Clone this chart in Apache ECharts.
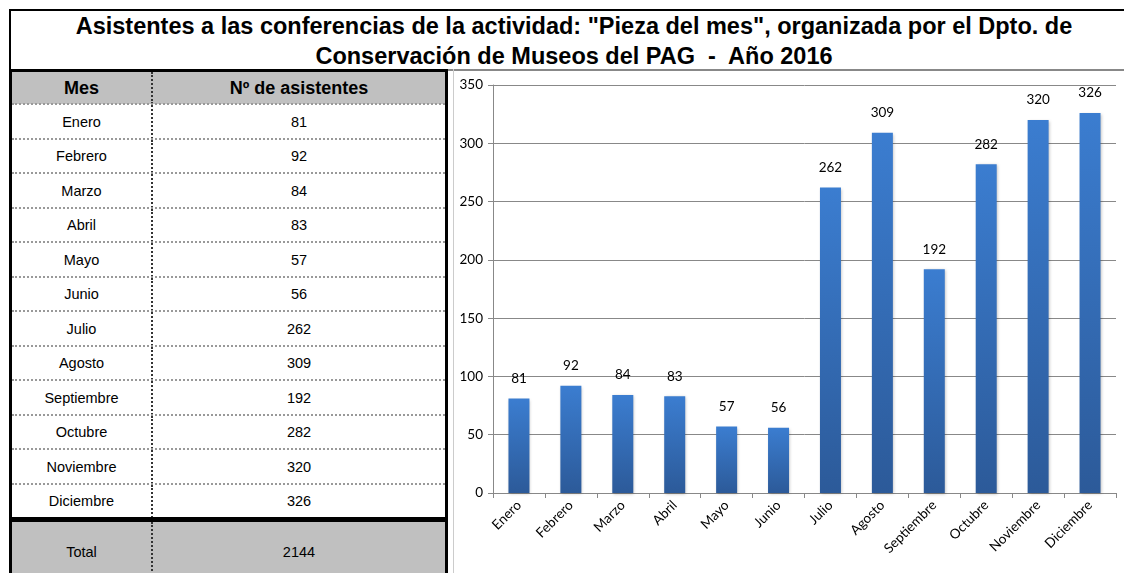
<!DOCTYPE html>
<html>
<head>
<meta charset="utf-8">
<script src="https://cdn.jsdelivr.net/npm/echarts@6/dist/echarts.min.js"></script>
<style>
  body { margin: 0; width: 1124px; height: 573px; overflow: hidden; background: #fff; font-family: "Liberation Sans", Arial, sans-serif; }
  .title { position: absolute; left: 9px; top: 9px; width: 1130px; height: 58px; border-top: 2px solid #000; border-left: 2px solid #000;
    border-bottom: 2px solid #888; font-weight: bold; font-size: 23.5px; line-height: 30px; text-align: center; }
  .title span { display: block; width: 1126px; }
  .tbl { position: absolute; left: 9px; top: 69px; width: 433px; height: 510px; border-left: 3px solid #000; border-right: 3px solid #000; border-top: 3px solid #000; }
  .row { position: absolute; left: 0; width: 433px; font-size: 14.5px; text-align: center; }
  .row div { position: absolute; top: 0; height: 100%; display: flex; align-items: center; justify-content: center; }
  .c1 { left: 0; width: 139px; border-right: 2px dotted #333; }
  .c2 { left: 141px; width: 292px; }
  .line { position: absolute; left: 0; width: 433px; border-top: 2px dotted #999; }
  .sep { position: absolute; left: 453px; top: 69px; width: 1px; height: 504px; background: #ccc; }
  #chart { position: absolute; left: 450px; top: 71px; width: 674px; height: 502px; }
</style>
</head>
<body>
<div class="title"><span>Asistentes a las conferencias de la actividad: "Pieza del mes", organizada por el Dpto. de</span><span>Conservación de Museos del PAG &nbsp;-&nbsp; Año 2016</span></div>
<div class="tbl" id="tbl"></div>
<div class="sep"></div>
<div id="chart"></div>
<script>
const meses = ["Enero", "Febrero", "Marzo", "Abril", "Mayo", "Junio", "Julio", "Agosto", "Septiembre", "Octubre", "Noviembre", "Diciembre"];
const asistentes = [81, 92, 84, 83, 57, 56, 262, 309, 192, 282, 320, 326];
const total = 2144;

// tabla
const tbl = document.getElementById("tbl");
function addRow(top, h, a, b, style) {
  const r = document.createElement("div");
  r.className = "row";
  r.style.top = top + "px";
  r.style.height = h + "px";
  if (style) Object.assign(r.style, style);
  r.innerHTML = '<div class="c1">' + a + '</div><div class="c2">' + b + '</div>';
  tbl.appendChild(r);
  return r;
}
addRow(0, 32, "Mes", "Nº de asistentes", { background: "#c0c0c0", fontWeight: "bold", fontSize: "18px" });
const rowH = 34.5;
meses.forEach((m, i) => {
  const top = 32 + i * rowH;
  const l = document.createElement("div");
  l.className = "line";
  l.style.top = (top - 1) + "px";
  tbl.appendChild(l);
  addRow(top + 1, rowH - 1, m, asistentes[i]);
});
const tTop = 32 + 12 * rowH;
const bar = document.createElement("div");
bar.style.cssText = "position:absolute;left:0;width:433px;height:5px;background:#000;top:" + (tTop - 1) + "px";
tbl.appendChild(bar);
addRow(tTop + 4, 60, "Total", total, { background: "#c0c0c0" });

// grafico
const chart = echarts.init(document.getElementById("chart"));
chart.setOption({
  animation: false,
  textStyle: { fontFamily: "Lato, 'Open Sans', sans-serif" },
  grid: { left: 43, right: 8, top: 14, bottom: 80 },
  xAxis: {
    type: "category",
    data: meses,
    axisLine: { lineStyle: { color: "#888", width: 1 } },
    axisTick: { show: true, alignWithLabel: false, length: 5, lineStyle: { color: "#888" } },
    axisLabel: { rotate: 45, color: "#000", fontSize: 13.5, margin: 10, interval: 0 }
  },
  yAxis: {
    type: "value",
    min: 0,
    max: 350,
    interval: 50,
    axisLine: { show: true, lineStyle: { color: "#888" } },
    axisTick: { show: true, length: 5, lineStyle: { color: "#888" } },
    axisLabel: { color: "#000", fontSize: 13.5, margin: 10 },
    splitLine: { lineStyle: { color: "#888", width: 1 } }
  },
  series: [{
    type: "bar",
    data: asistentes,
    barWidth: 21,
    itemStyle: {
      color: new echarts.graphic.LinearGradient(0, 0, 0, 1, [
        { offset: 0, color: "#3b7dd0" },
        { offset: 1, color: "#2c5a99" }
      ]),
      shadowColor: "rgba(0,0,0,0.25)",
      shadowBlur: 3,
      shadowOffsetX: 1,
      shadowOffsetY: 1
    },
    label: { show: true, position: "top", distance: 13, color: "#000", fontSize: 13.5 }
  }]
});
</script>
</body>
</html>
